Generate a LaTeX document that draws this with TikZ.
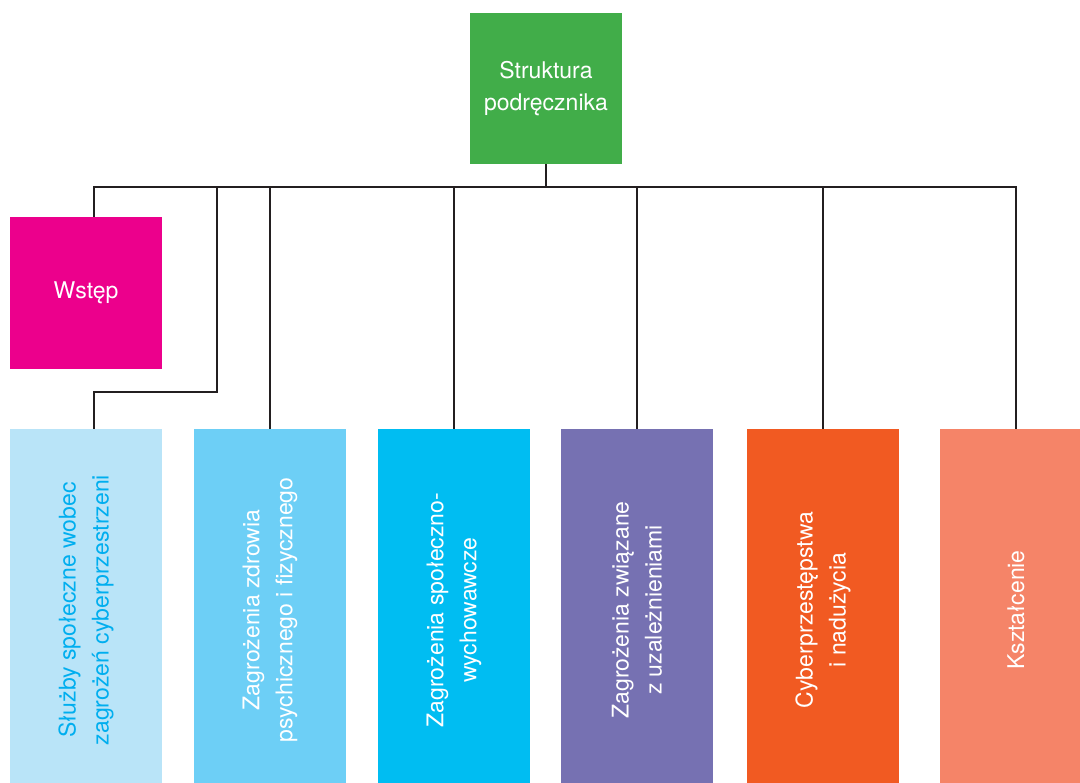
\documentclass[tikz,border=0pt]{standalone}
\usepackage{fontspec}
\setmainfont{TeX Gyre Heros}

\definecolor{rootgreen}{HTML}{41AD49}
\definecolor{wstepmagenta}{HTML}{EC008C}
\definecolor{sluzbyblue}{HTML}{B9E4F8}
\definecolor{sluzbytext}{HTML}{00AEEF}
\definecolor{zdrowieblue}{HTML}{6DCFF6}
\definecolor{spolblue}{HTML}{00BDF2}
\definecolor{uzalviolet}{HTML}{7671B2}
\definecolor{cyberorange}{HTML}{F15A22}
\definecolor{ksztsalmon}{HTML}{F58468}
\definecolor{linedark}{HTML}{231F20}

\tikzset{
  box/.style={minimum width=152pt, minimum height=152pt, inner sep=0pt,
    text=white, align=center, font=\fontsize{23}{32}\selectfont},
  bar/.style={minimum width=152pt, minimum height=362pt, inner sep=0pt},
  vtext/.style={rotate=90, align=center, font=\fontsize{23}{33}\selectfont},
  conn/.style={draw=linedark, line width=2.6pt}
}

\begin{document}
\begin{tikzpicture}[x=1pt, y=-1pt]
  \useasboundingbox (0,0) rectangle (1080,783);
  \clip (0,0) rectangle (1080,783);

  \node[box, fill=rootgreen, minimum height=151pt] (root) at (546,88.5) {\raisebox{-2pt}{Struktura}\\\raisebox{-2pt}{podręcznika}};
  \node[box, fill=wstepmagenta] (wstep) at (86,293) {\raisebox{-3pt}{Wstęp}};

  \foreach \name/\x/\col/\tcol/\txt in {
      sluzby/86/sluzbyblue/sluzbytext/{Służby społeczne wobec\\zagrożeń cyberprzestrzeni},
      zdrowie/270/zdrowieblue/white/{Zagrożenia zdrowia\\psychicznego i fizycznego},
      spol/454/spolblue/white/{Zagrożenia społeczno-\\wychowawcze},
      uzal/637/uzalviolet/white/{Zagrożenia związane\\z uzależnieniami},
      cyber/823/cyberorange/white/{Cyberprzestępstwa\\i nadużycia},
      kszt/1016/ksztsalmon/white/{Kształcenie}} {
    \node[bar, fill=\col] (\name) at (\x,610) {};
    \node[vtext, text=\tcol] (\name-txt) at (\name) {\txt};
  }

  \coordinate (bus) at (546,187);
  \coordinate (jog) at (217,392);

  \draw[conn] (root) -- (bus);
  \draw[conn] ([xshift=8pt]wstep.north) |- (bus);
  \draw[conn] (bus) -| (jog) -| ([xshift=8pt]sluzby.north);
  \foreach \name in {zdrowie, spol, uzal, cyber, kszt}
    \draw[conn] (bus) -| (\name.north);
\end{tikzpicture}
\end{document}
